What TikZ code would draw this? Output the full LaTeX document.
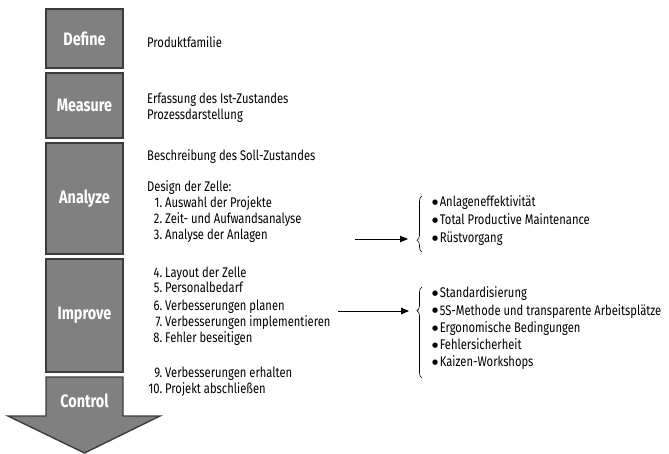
\documentclass[tikz,border=0pt]{standalone}
\usepackage{fontspec}
\setmainfont{Fira Sans}[FakeStretch=0.8]
\newfontfamily\dejavu{DejaVu Sans}
\usetikzlibrary{arrows.meta,decorations.pathreplacing}
\definecolor{boxgray}{HTML}{808080}
\definecolor{boxborder}{HTML}{3C3C3C}
\newcommand{\mynum}[2]{\makebox[15pt][r]{#1}\hspace{3pt}#2}
\newcommand{\mybul}[1]{{\dejavu\fontsize{7}{7}\selectfont\raisebox{2pt}{●}}\hspace{1.5pt}#1}
\begin{document}
\begin{tikzpicture}[x=1pt,y=-1pt,
  phase/.style={draw=boxborder, line width=1.4pt, fill=boxgray, minimum width=77pt, inner sep=0pt,
    text=white, font=\fontsize{18}{20}\selectfont\bfseries},
  txt/.style={anchor=base west, inner sep=0pt, font=\fontsize{14}{16}\selectfont},
  link/.style={line width=0.8pt, -{Triangle[length=8pt,width=6.5pt]}},
  curly/.style={draw, line width=0.6pt, decorate}
]
\useasboundingbox (0,0) rectangle (669,454);
% phase boxes
\node[phase, minimum height=59pt] (define) at (84.5,38.5) {Define};
\node[phase, minimum height=65pt] (measure) at (84.5,105.5) {Measure};
\node[phase, minimum height=111pt] (analyze) at (84.5,198.5) {Analyze};
\node[phase, minimum height=113pt] (improve) at (84.5,315.5) {Improve};
\draw[draw=boxborder, line width=1.4pt, fill=boxgray, line join=miter]
  (46,377) -- (123,377) -- (123,416) -- (160,416) -- (84.5,453) -- (8,416) -- (46,416) -- cycle;
\node[text=white, font=\fontsize{18}{20}\selectfont\bfseries, inner sep=0pt] (control) at (84.5,401) {Control};
% left texts
\node[txt] (t1) at (147,48) {Produktfamilie};
\node[txt] (t2) at (147,104) {Erfassung des Ist-Zustandes};
\node[txt] (t3) at (147,120) {Prozessdarstellung};
\node[txt] (t4) at (147,161) {Beschreibung des Soll-Zustandes};
\node[txt] (t5) at (147,192) {Design der Zelle:};
\node[txt] (n1) at (147,208) {\mynum{1.}{Auswahl der Projekte}};
\node[txt] (n2) at (147,224) {\mynum{2.}{Zeit- und Aufwandsanalyse}};
\node[txt] (n3) at (147,240) {\mynum{3.}{Analyse der Anlagen}};
\node[txt] (n4) at (147,277) {\mynum{4.}{Layout der Zelle}};
\node[txt] (n5) at (147,293) {\mynum{5.}{Personalbedarf}};
\node[txt] (n6) at (147,310) {\mynum{6.}{Verbesserungen planen}};
\node[txt] (n7) at (147,326) {\mynum{7.}{Verbesserungen implementieren}};
\node[txt] (n8) at (147,342) {\mynum{8.}{Fehler beseitigen}};
\node[txt] (n9) at (147,377) {\mynum{9.}{Verbesserungen erhalten}};
\node[txt] (n10) at (147,393) {\mynum{10.}{Projekt abschließen}};
% right texts
\node[txt] (r1) at (432,207) {\mybul{Anlageneffektivität}};
\node[txt] (r2) at (432,225) {\mybul{Total Productive Maintenance}};
\node[txt] (r3) at (432,243) {\mybul{Rüstvorgang}};
\node[txt] (s1) at (432,298) {\mybul{Standardisierung}};
\node[txt] (s2) at (432,315) {\mybul{5S-Methode und transparente Arbeitsplätze}};
\node[txt] (s3) at (432,332) {\mybul{Ergonomische Bedingungen}};
\node[txt] (s4) at (432,349) {\mybul{Fehlersicherheit}};
\node[txt] (s5) at (432,366) {\mybul{Kaizen-Workshops}};
% braces
\coordinate (b1bot) at (422,252);
\coordinate (b1top) at (422,196);
\coordinate (b2bot) at (422,378);
\coordinate (b2top) at (422,287);
\draw[curly, decoration={brace, amplitude=5pt, aspect=0.21}] (b1bot) -- (b1top);
\draw[curly, decoration={brace, amplitude=5pt, aspect=0.74}] (b2bot) -- (b2top);
% arrows
\coordinate (a1s) at (355,239);
\coordinate (a1e) at (408,239);
\coordinate (a2s) at (338,311);
\coordinate (a2e) at (409,311);
\draw[link] (a1s) -- (a1e);
\draw[link] (a2s) -- (a2e);
\end{tikzpicture}
\end{document}
